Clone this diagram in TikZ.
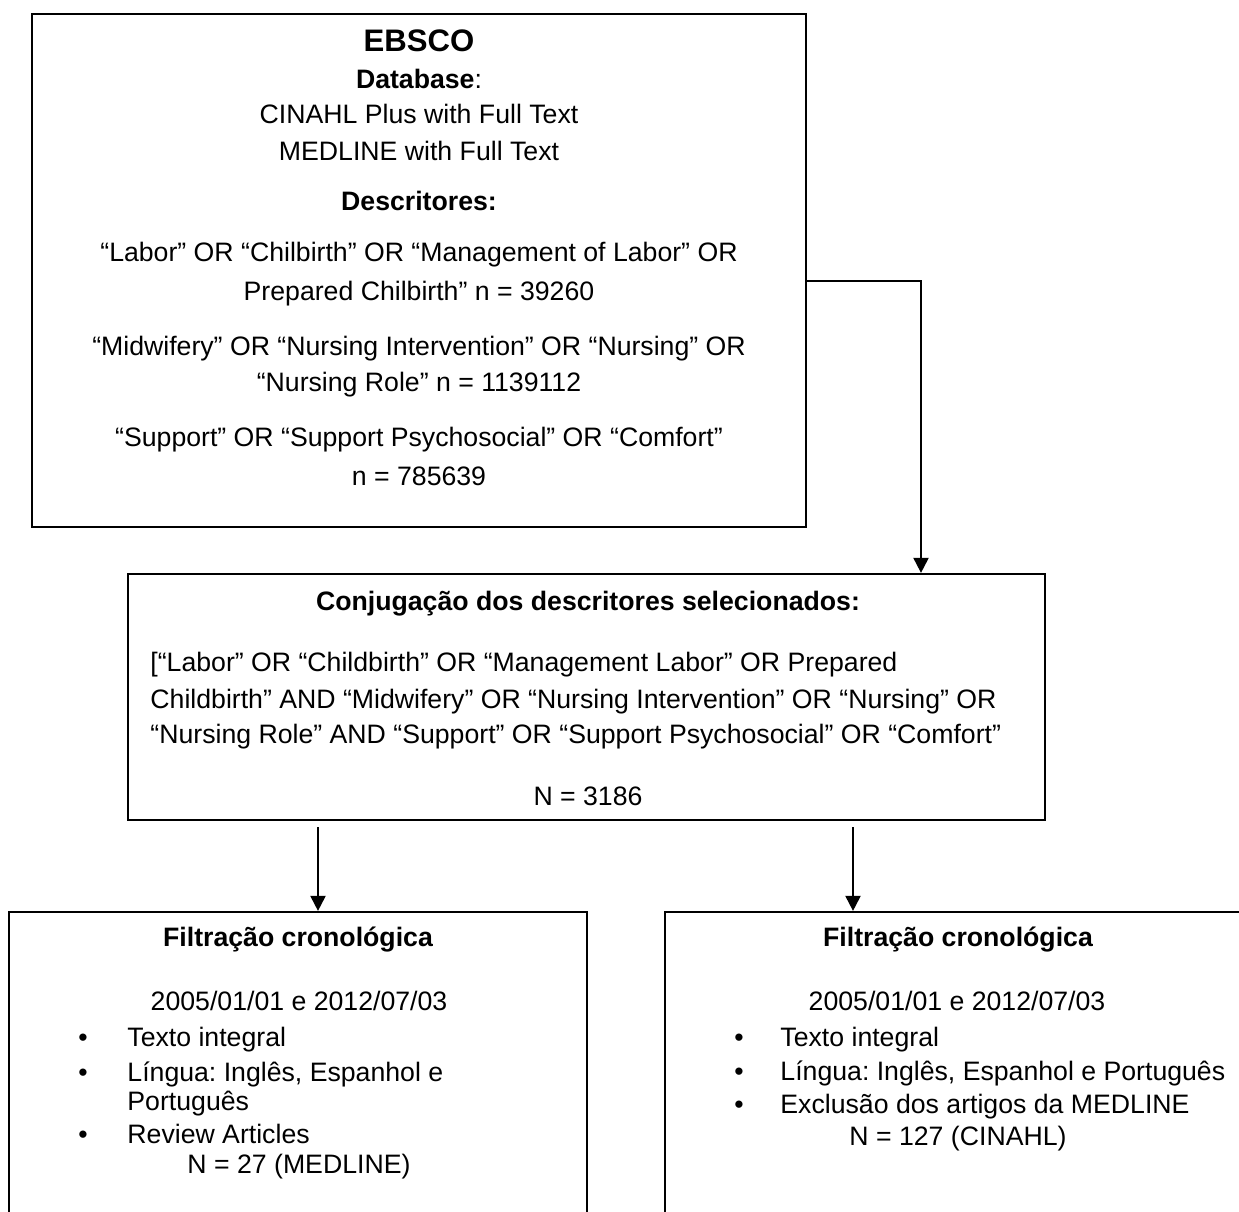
\documentclass[tikz,border=0pt]{standalone}
\usepackage{fontspec}
\setmainfont{Liberation Sans}
\usetikzlibrary{arrows.meta,fit,calc}
\frenchspacing
\begin{document}
\begin{tikzpicture}[x=0.45pt,y=-0.45pt,
  box/.style={draw=black,line width=1pt,inner sep=0pt,rectangle},
  txt/.style={inner sep=0pt,anchor=base,font=\fontsize{12}{14}\selectfont},
  txtl/.style={txt,anchor=base west},
  hd/.style={txt,font=\fontsize{12}{14}\selectfont\bfseries},
  bul/.style={txt},
  conn/.style={line width=0.9pt,-{Triangle[length=6.8pt,width=6.8pt]}}]

\useasboundingbox (0,0) rectangle (1239,1211);
\clip (0,0) rectangle (1239,1211);

% boxes
\node[box,fit={(32,14)(806,527)}] (top) {};
\node[box,fit={(128,574)(1045,820)}] (mid) {};
\node[box,fit={(9,912)(587,1240)}] (left) {};
\node[box,fit={(665,912)(1251,1240)}] (right) {};

% top box text
\node[txt,font=\fontsize{14}{16}\selectfont\bfseries] (t1) at (419,51) {EBSCO};
\node[txt] (t2) at (419,88) {\textbf{Database}:};
\node[txt] (t3) at (419,123) {CINAHL Plus with Full Text};
\node[txt] (t4) at (419,160) {MEDLINE with Full Text};
\node[hd] (t5) at (419,210) {Descritores:};
\node[txt] (t6) at (419,261) {“Labor” OR “Chilbirth” OR “Management of Labor” OR};
\node[txt] (t7) at (419,300) {Prepared Chilbirth” n = 39260};
\node[txt] (t8) at (419,355) {“Midwifery” OR “Nursing Intervention” OR “Nursing” OR};
\node[txt] (t9) at (419,391) {“Nursing Role” n = 1139112};
\node[txt] (t10) at (419,446) {“Support” OR “Support Psychosocial” OR “Comfort”};
\node[txt] (t11) at (419,485) {n = 785639};

% middle box text
\node[hd] (m1) at (588,610) {Conjugação dos descritores selecionados:};
\node[txtl] (m2) at (150,671) {[“Labor” OR “Childbirth” OR “Management Labor” OR Prepared};
\node[txtl] (m3) at (150,708) {Childbirth” AND “Midwifery” OR “Nursing Intervention” OR “Nursing” OR};
\node[txtl] (m4) at (150,743) {“Nursing Role” AND “Support” OR “Support Psychosocial” OR “Comfort”};
\node[txt] (m5) at (588,805) {N = 3186};

% left box text
\node[hd] (l1) at (298,946) {Filtração cronológica};
\node[txt] (l2) at (299,1010) {2005/01/01 e 2012/07/03};
\node[bul] (lb1) at (83,1046) {•};
\node[bul] (lb2) at (83,1081) {•};
\node[bul] (lb3) at (83,1143) {•};
\node[txtl] (l3) at (127,1046) {Texto integral};
\node[txtl] (l4) at (127,1081) {Língua: Inglês, Espanhol e};
\node[txtl] (l5) at (127,1110) {Português};
\node[txtl] (l6) at (127,1143) {Review Articles};
\node[txtl] (l7) at (187,1173) {N = 27 (MEDLINE)};

% right box text
\node[hd] (r1) at (958,946) {Filtração cronológica};
\node[txt] (r2) at (957,1010) {2005/01/01 e 2012/07/03};
\node[bul] (rb1) at (739,1046) {•};
\node[bul] (rb2) at (739,1080) {•};
\node[bul] (rb3) at (739,1113) {•};
\node[txtl] (r3) at (780,1046) {Texto integral};
\node[txtl] (r4) at (780,1080) {Língua: Inglês, Espanhol e Português};
\node[txtl] (r5) at (780,1113) {Exclusão dos artigos da MEDLINE};
\node[txtl] (r6) at (849,1145) {N = 127 (CINAHL)};

% connectors
\coordinate (k1) at (921,281);
\draw[conn] (top.east |- k1) -| (mid.north -| k1);
\coordinate (a1) at (318,827);
\coordinate (a2) at (853,827);
\draw[conn] (a1) -- (a1 |- left.north);
\draw[conn] (a2) -- (a2 |- right.north);
\end{tikzpicture}
\end{document}
